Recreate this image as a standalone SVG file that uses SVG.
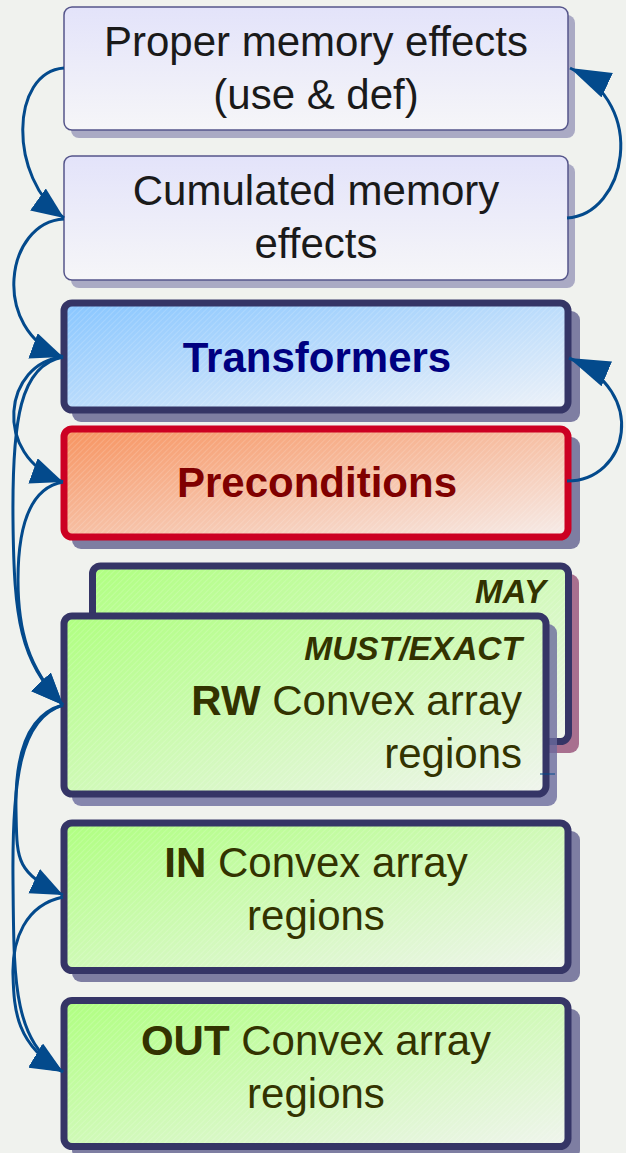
<svg xmlns="http://www.w3.org/2000/svg" width="626" height="1153" viewBox="0 0 626 1153">
<defs>
<style>
.t{font-family:"Liberation Sans",Arial,sans-serif;font-size:42px}
.dark{fill:#1a1a1a}
.g{fill:#333300}
.b{font-weight:bold}
.bi{font-weight:bold;font-style:italic}
.thick{fill:none;stroke:#353566;stroke-width:7}
.thin{fill:none;stroke:#55558a;stroke-width:1.5}
.hat{fill:url(#hatch)}
.con{fill:none;stroke:#034a8c;stroke-width:3}
</style>
<linearGradient id="gLav" x1="0" y1="0" x2="0" y2="1"><stop offset="0" stop-color="#e3e3fa"/><stop offset="1" stop-color="#f6f6f8"/></linearGradient>
<linearGradient id="gBlue" x1="0" y1="0" x2="1" y2="1"><stop offset="0" stop-color="#88c6ff"/><stop offset="1" stop-color="#eef2f8"/></linearGradient>
<linearGradient id="gRed" x1="0" y1="0" x2="1" y2="1"><stop offset="0" stop-color="#f7935f"/><stop offset="1" stop-color="#f6ece9"/></linearGradient>
<linearGradient id="gGreen" x1="0" y1="0" x2="1" y2="1"><stop offset="0" stop-color="#afff80"/><stop offset="1" stop-color="#f0f4ee"/></linearGradient>
<pattern id="hatch" width="4" height="4" patternUnits="userSpaceOnUse" patternTransform="rotate(45)"><line x1="0" y1="0" x2="0" y2="4" stroke="#ffffff" stroke-width="1" opacity="0.3"/></pattern>
<marker id="arL" markerUnits="userSpaceOnUse" markerWidth="34" markerHeight="28" refX="32" refY="13.5" orient="auto"><path d="M0,0 L32,13.5 L0,27 z" fill="#034a8c"/></marker>
<marker id="arR" markerUnits="userSpaceOnUse" markerWidth="42" markerHeight="28" refX="41" refY="13.5" orient="auto"><path d="M0,0 L41,13.5 L0,27 z" fill="#034a8c"/></marker>
</defs>
<rect x="0" y="0" width="626" height="1153" fill="#f0f2ee"/>

<g id="proper">
<rect x="71" y="15" width="504" height="123" rx="8" fill="#aaaac4"/>
<rect x="64" y="7" width="504" height="123" rx="8" fill="url(#gLav)"/>
<rect x="64" y="7" width="504" height="123" rx="8" class="thin"/>
<text class="t dark" x="316" y="56" text-anchor="middle">Proper memory effects</text>
<text class="t dark" x="316" y="109" text-anchor="middle">(use &amp; def)</text>
</g>

<g id="cumulated">
<rect x="71" y="164" width="504" height="124" rx="8" fill="#aaaac4"/>
<rect x="64" y="156" width="504" height="124" rx="8" fill="url(#gLav)"/>
<rect x="64" y="156" width="504" height="124" rx="8" class="thin"/>
<text class="t dark" x="316" y="205" text-anchor="middle">Cumulated memory</text>
<text class="t dark" x="316" y="258" text-anchor="middle">effects</text>
</g>

<g id="transformers">
<rect x="72" y="311" width="508" height="111" rx="9" fill="#7e7ea2"/>
<rect x="64" y="303" width="504" height="107" rx="8" fill="url(#gBlue)"/>
<rect x="64" y="303" width="504" height="107" rx="8" class="hat"/>
<rect x="64" y="303" width="504" height="107" rx="8" class="thick"/>
<text class="t b" x="317" y="372" text-anchor="middle" fill="#000080">Transformers</text>
</g>

<g id="preconditions">
<rect x="72" y="437" width="508" height="112" rx="9" fill="#7e7ea2"/>
<rect x="64" y="429" width="504" height="108" rx="8" fill="url(#gRed)"/>
<rect x="64" y="429" width="504" height="108" rx="8" class="hat"/>
<rect x="64" y="429" width="504" height="108" rx="8" fill="none" stroke="#cc0022" stroke-width="7"/>
<text class="t b" x="317" y="497" text-anchor="middle" fill="#800000">Preconditions</text>
</g>

<g id="may">
<rect x="100" y="574" width="479" height="179" rx="9" fill="#a8708f"/>
<rect x="92.5" y="566" width="476" height="175.5" rx="8" fill="url(#gGreen)"/>
<rect x="92.5" y="566" width="476" height="175.5" rx="8" class="hat"/>
<rect x="92.5" y="566" width="476" height="175.5" rx="8" class="thick"/>
<text class="t bi g" x="546" y="603" text-anchor="end" style="font-size:33px">MAY</text>
</g>

<g id="must">
<rect x="72" y="624" width="485" height="182" rx="9" fill="#6a6a9c" opacity="0.8"/>
<rect x="64" y="616" width="482" height="178" rx="8" fill="url(#gGreen)"/>
<rect x="64" y="616" width="482" height="178" rx="8" class="hat"/>
<rect x="64" y="616" width="482" height="178" rx="8" class="thick"/>
<text class="t bi g" x="522" y="660" text-anchor="end" style="font-size:33.5px">MUST/EXACT</text>
<text class="t g" x="522" y="715" text-anchor="end"><tspan class="b">RW</tspan> Convex array</text>
<text class="t g" x="522" y="768" text-anchor="end">regions</text>
</g>

<g id="in">
<rect x="72" y="831" width="508" height="151" rx="9" fill="#7e7ea2"/>
<rect x="64" y="823" width="504" height="147.5" rx="8" fill="url(#gGreen)"/>
<rect x="64" y="823" width="504" height="147.5" rx="8" class="hat"/>
<rect x="64" y="823" width="504" height="147.5" rx="8" class="thick"/>
<text class="t g" x="316" y="877" text-anchor="middle"><tspan class="b">IN</tspan> Convex array</text>
<text class="t g" x="316" y="930" text-anchor="middle">regions</text>
</g>

<g id="out">
<rect x="72" y="1009" width="508" height="150" rx="9" fill="#7e7ea2"/>
<rect x="64" y="1000.5" width="504" height="146" rx="8" fill="url(#gGreen)"/>
<rect x="64" y="1000.5" width="504" height="146" rx="8" class="hat"/>
<rect x="64" y="1000.5" width="504" height="146" rx="8" class="thick"/>
<text class="t g" x="316" y="1055" text-anchor="middle"><tspan class="b">OUT</tspan> Convex array</text>
<text class="t g" x="316" y="1108" text-anchor="middle">regions</text>
</g>

<g id="connectors">
<path class="con" d="M64,68 C10,72 8,178 64,218" marker-end="url(#arL)"/>
<path class="con" d="M567,218 C625,215 650,105 570,68" marker-end="url(#arR)"/>
<path class="con" d="M567,481 C628,481 650,392 569,358" marker-end="url(#arR)"/>
<path class="con" d="M64,219 C5,222 -10,330 63,357" marker-end="url(#arL)"/>
<path class="con" d="M63,357 C5,362 -10,455 63,482" marker-end="url(#arL)"/>
<path class="con" d="M63,357 C20,365 12,420 13,520 S20,660 63,705" marker-end="url(#arL)"/>
<path class="con" d="M63,482 C28,488 18,530 18,580 S28,668 63,705" marker-end="url(#arL)"/>
<path class="con" d="M63,705 C25,715 15,760 16,810 S15,872 63,895" marker-end="url(#arL)"/>
<path class="con" d="M63,705 C20,718 12,780 13,880 S12,1040 63,1072" marker-end="url(#arL)"/>
<path class="con" d="M63,897 C25,905 12,940 13,975 S16,1045 63,1072" marker-end="url(#arL)"/>
<line x1="540" y1="774" x2="555" y2="774" stroke="#034a8c" stroke-width="1"/>
</g>
</svg>
